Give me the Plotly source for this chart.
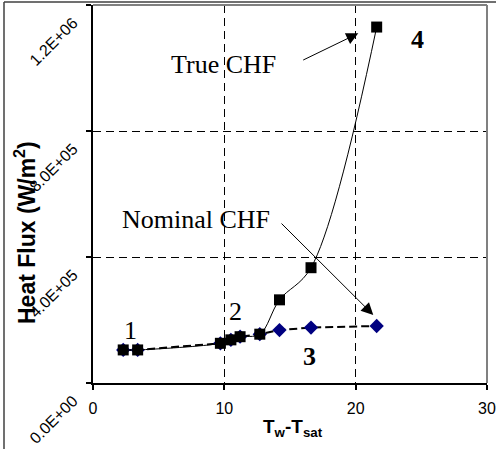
import plotly.graph_objects as go

# ---- data ----
dT_true = [2.3, 3.4, 9.7, 10.5, 11.2, 12.7, 14.2, 16.6, 21.6]
q_true = [1.05e5, 1.05e5, 1.26e5, 1.37e5, 1.47e5, 1.55e5, 2.64e5, 3.66e5, 1.13e6]

dT_nominal = [2.3, 3.4, 9.7, 10.5, 11.2, 12.7, 14.2, 16.6, 21.6]
q_nominal = [1.05e5, 1.05e5, 1.26e5, 1.37e5, 1.47e5, 1.55e5, 1.68e5, 1.76e5, 1.81e5]

x_ticks = [0, 10, 20, 30]
y_ticks = [0, 4e5, 8e5, 1.2e6]
y_tick_labels = ["0.0E+00", "4.0E+05", "8.0E+05", "1.2E+06"]

# ---- figure ----
fig = go.Figure()

fig.add_trace(go.Scatter(
    x=dT_nominal, y=q_nominal, mode="lines+markers",
    line=dict(color="black", width=2, dash="8px,4px"),
    marker=dict(symbol="diamond", size=11, color="#000080", line=dict(width=0)),
    showlegend=False, cliponaxis=False,
))
fig.add_trace(go.Scatter(
    x=dT_true, y=q_true, mode="lines+markers",
    line=dict(color="black", width=1, shape="spline", smoothing=1),
    marker=dict(symbol="square", size=11, color="black", line=dict(width=0)),
    showlegend=False, cliponaxis=False,
))

serif = "Liberation Serif, Times New Roman, serif"
sans = "Liberation Sans, Arial, sans-serif"

annotations = [
    dict(x=2.89, y=1.68e5, text="1", font=dict(family=serif, size=26, color="black")),
    dict(x=10.87, y=2.26e5, text="2", font=dict(family=serif, size=26, color="black")),
    dict(x=16.52, y=0.835e5, text="<b>3</b>", font=dict(family=serif, size=26, color="black")),
    dict(x=24.7, y=1.089e6, text="<b>4</b>", font=dict(family=serif, size=26, color="black")),
    dict(x=9.9, y=1.0127e6, text="True CHF", font=dict(family=serif, size=26, color="black")),
    dict(x=7.84, y=5.175e5, text="Nominal CHF", font=dict(family=serif, size=26, color="black")),
]
for a in annotations:
    a.update(xref="x", yref="y", showarrow=False, xanchor="center", yanchor="middle")

# arrows
annotations.append(dict(x=20.2, y=1.11e6, ax=15.89, ay=1.023e6, xref="x", yref="y",
                        axref="x", ayref="y", text="", showarrow=True, arrowhead=2,
                        arrowsize=2.4, arrowwidth=1, arrowcolor="black", standoff=0))
annotations.append(dict(x=21.34, y=2.16e5, ax=14.24, ay=5.11e5, xref="x", yref="y",
                        axref="x", ayref="y", text="", showarrow=True, arrowhead=2,
                        arrowsize=2.4, arrowwidth=1, arrowcolor="black", standoff=0))

# axis titles
annotations.append(dict(x=(293 - 93) / 394, y=(383 - 428) / 378, xref="paper", yref="paper",
                        xanchor="center", yanchor="middle",
                        text="<b>T<sub>w</sub>-T<sub>sat</sub></b>", showarrow=False,
                        font=dict(family=sans, size=19, color="black")))
annotations.append(dict(x=(25 - 93) / 394, y=(383 - 233) / 378, xref="paper", yref="paper",
                        xanchor="center", yanchor="middle",
                        text="<b>Heat Flux (W/m<sup>2</sup>)</b>", showarrow=False, textangle=-90,
                        font=dict(family=sans, size=23, color="black")))

shapes = [
    # plot-area border (top and right, gray)
    dict(type="line", xref="paper", yref="paper", x0=0, x1=1, y0=1, y1=1,
         line=dict(color="#808080", width=2), layer="above"),
    dict(type="line", xref="paper", yref="paper", x0=1, x1=1, y0=0, y1=1,
         line=dict(color="#808080", width=2), layer="above"),
    # outer chart frame
    dict(type="line", xref="paper", yref="paper", x0=(4 - 93) / 394, x1=1.05,
         y0=(383 - 2) / 378, y1=(383 - 2) / 378, line=dict(color="#404040", width=1.5)),
    dict(type="line", xref="paper", yref="paper", x0=(4 - 93) / 394, x1=(4 - 93) / 394,
         y0=-0.3, y1=(383 - 2) / 378, line=dict(color="#404040", width=1.5)),
]

fig.update_layout(
    width=496, height=449,
    margin=dict(l=93, r=9, t=5, b=66),
    paper_bgcolor="white", plot_bgcolor="white",
    annotations=annotations, shapes=shapes,
    showlegend=False,
)
fig.update_xaxes(
    range=[0, 30], tickvals=x_ticks, ticktext=[str(v) for v in x_ticks],
    showgrid=True, gridcolor="black", gridwidth=1, griddash="8px,5px",
    showline=True, linecolor="black", linewidth=1.5, zeroline=False,
    ticks="outside", ticklen=5, tickcolor="black", tickwidth=1.5,
    ticklabelstandoff=5, automargin=False, ticklabeloverflow="allow",
    tickfont=dict(family=sans, size=16, color="black"),
)
fig.update_yaxes(
    range=[0, 1.2e6], tickvals=y_ticks, ticktext=y_tick_labels,
    showgrid=True, gridcolor="black", gridwidth=1, griddash="8px,5px",
    showline=True, linecolor="black", linewidth=1.5, zeroline=False,
    ticks="outside", ticklen=5, tickcolor="black", tickwidth=1.5,
    tickangle=-45, ticklabelshift=16, ticklabelstandoff=10, automargin=False,
    ticklabeloverflow="allow",
    tickfont=dict(family=sans, size=16, color="black"),
)

fig.write_html("out.html")
